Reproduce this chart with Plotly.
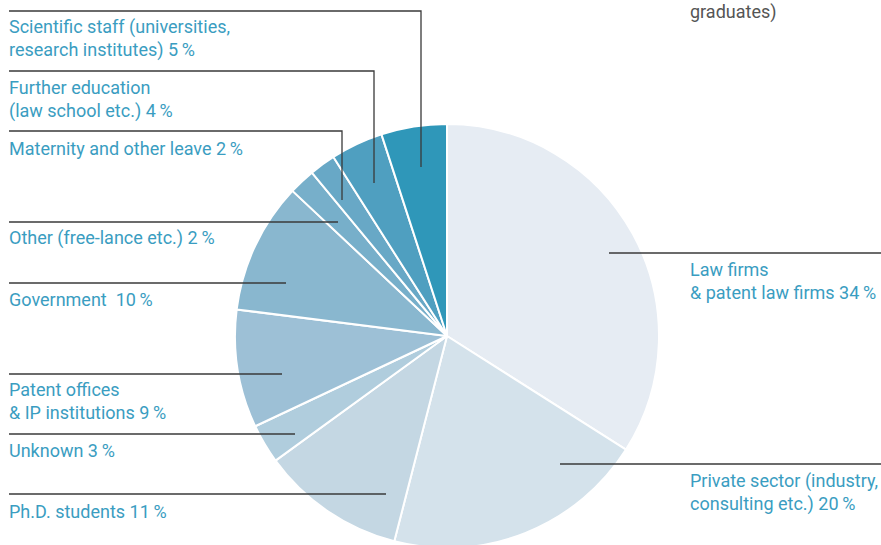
import plotly.graph_objects as go

# ---- data ----
categories = [
    "Law firms<br>& patent law firms",
    "Private sector (industry,<br>consulting etc.)",
    "Ph.D. students",
    "Unknown",
    "Patent offices<br>& IP institutions",
    "Government ",
    "Other (free-lance etc.)",
    "Maternity and other leave",
    "Further education<br>(law school etc.)",
    "Scientific staff (universities,<br>research institutes)",
]
shares = [34, 20, 11, 3, 9, 10, 2, 2, 4, 5]
colors = ["#e6ecf3", "#d4e2eb", "#c4d7e3", "#b0cddd", "#9dc0d6",
          "#89b7cf", "#77afca", "#68a8c6", "#4f9fc0", "#2f97b9"]

W, H = 881, 548
cx, cy, r = 447, 336, 212

# label placement (pixel space): text anchor x, text centre y, leader line path
label_pos = [
    (689, 281, [(609, 253), (881, 253)]),
    (689, 492, [(560, 464), (881, 464)]),
    (8, 511, [(9, 494), (386, 494)]),
    (8, 450, [(9, 434), (295, 434)]),
    (8, 401, [(9, 374), (282, 374)]),
    (8, 299, [(9, 283), (286, 283)]),
    (8, 238, [(9, 222), (338, 222)]),
    (8, 148, [(9, 131), (342, 131), (342, 200)]),
    (8, 99, [(9, 71), (374, 71), (374, 183)]),
    (8, 38, [(9, 11), (421, 11), (421, 167)]),
]

TEXT_COLOR = "#3a9dc1"
LINE_COLOR = "#3a3a3a"
FONT = "Roboto, Arial, sans-serif"
FS = 18

fig = go.Figure()
fig.add_trace(go.Pie(
    labels=categories,
    values=shares,
    sort=False,
    direction="clockwise",
    rotation=0,
    marker=dict(colors=colors, line=dict(color="white", width=2)),
    textinfo="none",
    hoverinfo="label+percent",
    showlegend=False,
    domain=dict(x=[(cx - r) / W, (cx + r) / W],
                y=[(H - (cy + r)) / H, (H - (cy - r)) / H]),
))

shapes = []
annotations = []
for cat, val, (tx, ty, path) in zip(categories, shares, label_pos):
    d = "M " + " L ".join(f"{x},{y}" for x, y in path)
    shapes.append(dict(type="path", path=d, xref="x", yref="y",
                       line=dict(color=LINE_COLOR, width=1.3), layer="above"))
    annotations.append(dict(
        x=tx, y=ty, xref="x", yref="y", xanchor="left", yanchor="middle",
        text=f"{cat} {val}\u2009%", showarrow=False, align="left",
        borderpad=0,
        font=dict(family=FONT, size=FS, color=TEXT_COLOR)))

annotations.append(dict(x=689, y=0, xref="x", yref="y", xanchor="left",
                        yanchor="top", text="graduates)", showarrow=False,
                        borderpad=0,
                        font=dict(family=FONT, size=FS, color="#555555")))

fig.update_layout(
    width=W, height=H,
    margin=dict(l=0, r=0, t=0, b=0),
    paper_bgcolor="white", plot_bgcolor="rgba(0,0,0,0)",
    xaxis=dict(range=[0, W], visible=False, fixedrange=True),
    yaxis=dict(range=[H, 0], visible=False, fixedrange=True),
    shapes=shapes, annotations=annotations,
)

fig.write_html("out.html",
               post_script="document.documentElement.style.overflow='hidden';"
                           "document.body.style.overflow='hidden';"
                           "document.body.style.margin='0';")
